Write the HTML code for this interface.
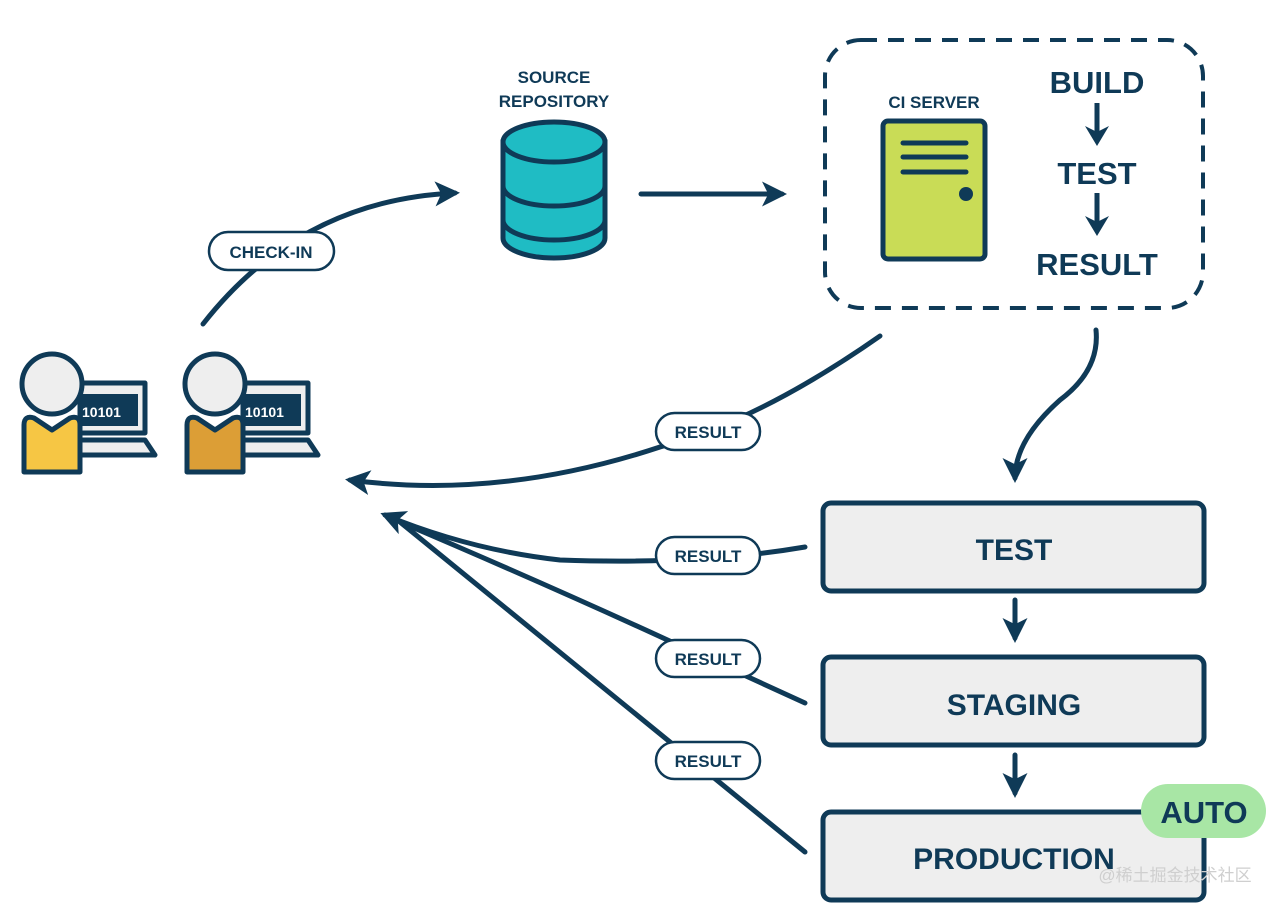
<!DOCTYPE html>
<html><head><meta charset="utf-8"><style>
html,body{margin:0;padding:0;background:#fff;width:1280px;height:909px;overflow:hidden}
svg{display:block}
text{font-family:"Liberation Sans","Noto Sans CJK SC",sans-serif;font-weight:bold;fill:#0f3a57}
</style></head><body>
<svg width="1280" height="909" viewBox="0 0 1280 909" xmlns="http://www.w3.org/2000/svg">
<defs>
<marker id="ah" viewBox="0 0 10 10" refX="8" refY="5" markerWidth="5" markerHeight="5" orient="auto" markerUnits="strokeWidth">
<path d="M0,0 L10,5 L0,10 L2.5,5 z" fill="#0f3a57"/>
</marker>
</defs>
<g fill="none" stroke="#0f3a57" stroke-width="5" stroke-linecap="round">
<path d="M203,324 Q300,200 455,193" marker-end="url(#ah)"/>
<path d="M641,194 L782,194" marker-end="url(#ah)"/>
<path d="M880,336 Q760,420 660,447 Q500,500 350,480" marker-end="url(#ah)"/>
<path d="M1096,330 Q1100,370 1060,400 Q1015,440 1015,478" marker-end="url(#ah)"/>
<path d="M1015,600 L1015,638" marker-end="url(#ah)"/>
<path d="M1015,755 L1015,793" marker-end="url(#ah)"/>
<path d="M805,547 Q700,565 560,560 Q470,550 385,515" marker-end="url(#ah)"/>
<path d="M805,703 L700,655 Q560,590 400,522"/>
<path d="M805,852 L400,522"/>
</g>
<g fill="#fff" stroke="#0f3a57" stroke-width="2.5">
<rect x="209" y="232" width="125" height="38" rx="19"/>
<rect x="656" y="413" width="104" height="37" rx="18.5"/>
<rect x="656" y="537" width="104" height="37" rx="18.5"/>
<rect x="656" y="640" width="104" height="37" rx="18.5"/>
<rect x="656" y="742" width="104" height="37" rx="18.5"/>
</g>
<g font-size="17" text-anchor="middle">
<text x="271" y="258">CHECK-IN</text>
<text x="708" y="438">RESULT</text>
<text x="708" y="562">RESULT</text>
<text x="708" y="665">RESULT</text>
<text x="708" y="767">RESULT</text>
</g>
<text x="554" y="83" font-size="17" text-anchor="middle">SOURCE</text>
<text x="554" y="107" font-size="17" text-anchor="middle">REPOSITORY</text>
<g stroke="#0f3a57" stroke-width="5" fill="#1fbcc4">
<path d="M503,142 L503,238 A51,20 0 0 0 605,238 L605,142 Z"/>
<ellipse cx="554" cy="142" rx="51" ry="20"/>
<path d="M503,186 A51,20 0 0 0 605,186" fill="none"/>
<path d="M503,220 A51,20 0 0 0 605,220" fill="none"/>
</g>
<rect x="825" y="40" width="378" height="268" rx="36" fill="none" stroke="#0f3a57" stroke-width="4" stroke-dasharray="16,11"/>
<text x="934" y="108" font-size="17" text-anchor="middle">CI SERVER</text>
<rect x="883" y="121" width="102" height="138" rx="5" fill="#c9dc56" stroke="#0f3a57" stroke-width="5"/>
<g stroke="#0f3a57" stroke-width="5" stroke-linecap="round">
<line x1="903" y1="143" x2="966" y2="143"/><line x1="903" y1="157" x2="966" y2="157"/><line x1="903" y1="172" x2="966" y2="172"/>
</g>
<circle cx="966" cy="194" r="7" fill="#0f3a57"/>
<g font-size="31" text-anchor="middle">
<text x="1097" y="93">BUILD</text>
<text x="1097" y="184">TEST</text>
<text x="1097" y="275">RESULT</text>
</g>
<g stroke="#0f3a57" stroke-width="5" fill="none">
<line x1="1097" y1="103" x2="1097" y2="133"/>
<line x1="1097" y1="193" x2="1097" y2="222"/>
</g>
<path d="M1085,126 L1097,146 L1109,126 L1097,132 Z" fill="#0f3a57"/>
<path d="M1085,216 L1097,236 L1109,216 L1097,222 Z" fill="#0f3a57"/>
<g fill="#eeeeee" stroke="#0f3a57" stroke-width="5">
<rect x="823" y="503" width="381" height="88" rx="8"/>
<rect x="823" y="657" width="381" height="88" rx="8"/>
<rect x="823" y="812" width="381" height="88" rx="8"/>
</g>
<g font-size="30" text-anchor="middle">
<text x="1014" y="560">TEST</text>
<text x="1014" y="715">STAGING</text>
<text x="1014" y="869">PRODUCTION</text>
</g>
<rect x="1141" y="784" width="125" height="54" rx="27" fill="#a8e6a5"/>
<text x="1204" y="823" font-size="31" text-anchor="middle">AUTO</text>
<text x="1175" y="881" font-size="17" text-anchor="middle" style="font-weight:normal;fill:#cfcfcf">@稀土掘金技术社区</text>
<g stroke="#0f3a57" stroke-width="5" stroke-linejoin="round">
<g>
<rect x="80" y="383" width="65" height="50" fill="#eeeeee"/>
<rect x="78" y="394" width="60" height="32" fill="#0f3a57" stroke="none"/>
<path d="M70,440 L145,440 L155,455 L70,455 Z" fill="#eeeeee"/>
<path d="M24,425 Q24,415 34,418 L52,430 L70,418 Q80,415 80,425 L80,472 L24,472 Z" fill="#f6c644"/>
<circle cx="52" cy="384" r="30" fill="#eeeeee"/>
</g>
<g transform="translate(163,0)">
<rect x="80" y="383" width="65" height="50" fill="#eeeeee"/>
<rect x="78" y="394" width="60" height="32" fill="#0f3a57" stroke="none"/>
<path d="M70,440 L145,440 L155,455 L70,455 Z" fill="#eeeeee"/>
<path d="M24,425 Q24,415 34,418 L52,430 L70,418 Q80,415 80,425 L80,472 L24,472 Z" fill="#dc9e36"/>
<circle cx="52" cy="384" r="30" fill="#eeeeee"/>
</g>
</g>
<text x="82" y="417" font-size="14" style="fill:#fff">10101</text>
<text x="245" y="417" font-size="14" style="fill:#fff">10101</text>
</svg>
</body></html>
